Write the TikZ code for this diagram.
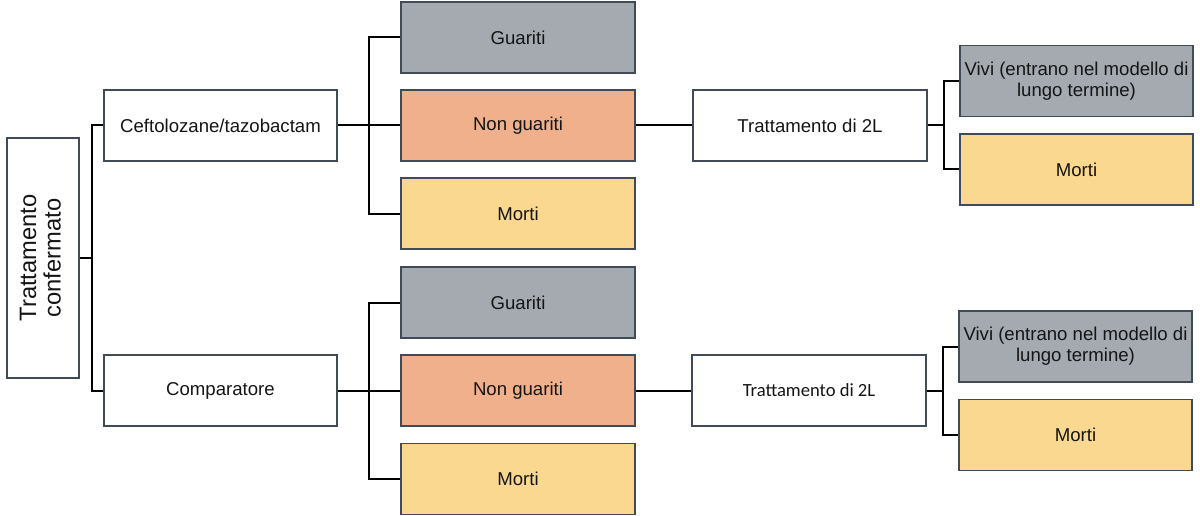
\documentclass[tikz,border=0pt]{standalone}
\usepackage{fontspec}
\usepackage{graphicx}
\setmainfont{Liberation Sans}
\newfontfamily\carl{Carlito}
\usetikzlibrary{calc}
\definecolor{bordc}{HTML}{414B57}
\definecolor{grayf}{HTML}{A5AAB1}
\definecolor{orangef}{HTML}{EFB08B}
\definecolor{yellowf}{HTML}{FAD88F}
\definecolor{txt}{HTML}{151515}
\tikzset{
  box/.style={draw=bordc, line width=1.4pt, fill=white, minimum width=233pt, minimum height=71pt,
    inner sep=1pt, align=center, text=txt, font=\fontsize{18.6}{21}\selectfont},
  gbox/.style={box, fill=grayf},
  obox/.style={box, fill=orangef},
  ybox/.style={box, fill=yellowf},
  conn/.style={draw=black, line width=2pt}
}
\begin{document}
\begin{tikzpicture}[x=1pt,y=-1pt]
\useasboundingbox (0,0) rectangle (1200,516);
% first column
\node[box, minimum width=72pt, minimum height=240pt] (tc) at (43,258)
  {\rotatebox{90}{\fontsize{23.7}{26.5}\selectfont\begin{tabular}{@{}c@{}}Trattamento\\[-2pt]confermato\end{tabular}}};
% second column
\node[box] (ceft) at (220.5,125.5) {Ceftolozane/tazobactam};
\node[box] (comp) at (220.5,390.5) {Comparatore};
% third column
\node[gbox, minimum width=234pt] (gu1) at (518,37.5) {Guariti};
\node[obox, minimum width=234pt] (ng1) at (518,125.5) {Non guariti};
\node[ybox, minimum width=234pt] (mo1) at (518,213.5) {Morti};
\node[gbox, minimum width=234pt] (gu2) at (518,302.5) {Guariti};
\node[obox, minimum width=234pt] (ng2) at (518,390.5) {Non guariti};
\node[ybox, minimum width=234pt] (mo2) at (518,479) {Morti};
% fourth column
\node[box, minimum width=234pt] (tl1) at (810,125.5) {Trattamento di 2L};
\node[box, minimum width=234pt, font=\carl\fontsize{18.6}{21}\selectfont] (tl2) at (809,390.5) {Trattamento di 2L};
% fifth column
\node[gbox] (vv1) at (1076.5,81) {Vivi (entrano nel modello di\\lungo termine)};
\node[ybox] (mm1) at (1076.5,169.5) {Morti};
\node[gbox] (vv2) at (1075.5,346.5) {Vivi (entrano nel modello di\\lungo termine)};
\node[ybox] (mm2) at (1075.5,435) {Morti};
% connectors
\coordinate (f1) at ($(tc.east)!0.5!(tc.east -| ceft.west)$);
\draw[conn] (tc.east) -- (f1);
\draw[conn] (ceft.west) -| (f1) |- (comp.west);
\coordinate (f2) at ($(ceft.east)!0.5!(ng1.west)$);
\draw[conn] (ceft.east) -- (ng1.west);
\draw[conn] (gu1.west) -| (f2) |- (mo1.west);
\coordinate (f3) at ($(comp.east)!0.5!(ng2.west)$);
\draw[conn] (comp.east) -- (ng2.west);
\draw[conn] (gu2.west) -| (f3) |- (mo2.west);
\draw[conn] (ng1.east) -- (tl1.west);
\draw[conn] (ng2.east) -- (tl2.west);
\coordinate (f4) at ($(tl1.east)!0.5!(tl1.east -| vv1.west)$);
\draw[conn] (tl1.east) -- (f4);
\draw[conn] (vv1.west) -| (f4) |- (mm1.west);
\coordinate (f5) at ($(tl2.east)!0.5!(tl2.east -| vv2.west)$);
\draw[conn] (tl2.east) -- (f5);
\draw[conn] (vv2.west) -| (f5) |- (mm2.west);
\end{tikzpicture}
\end{document}
